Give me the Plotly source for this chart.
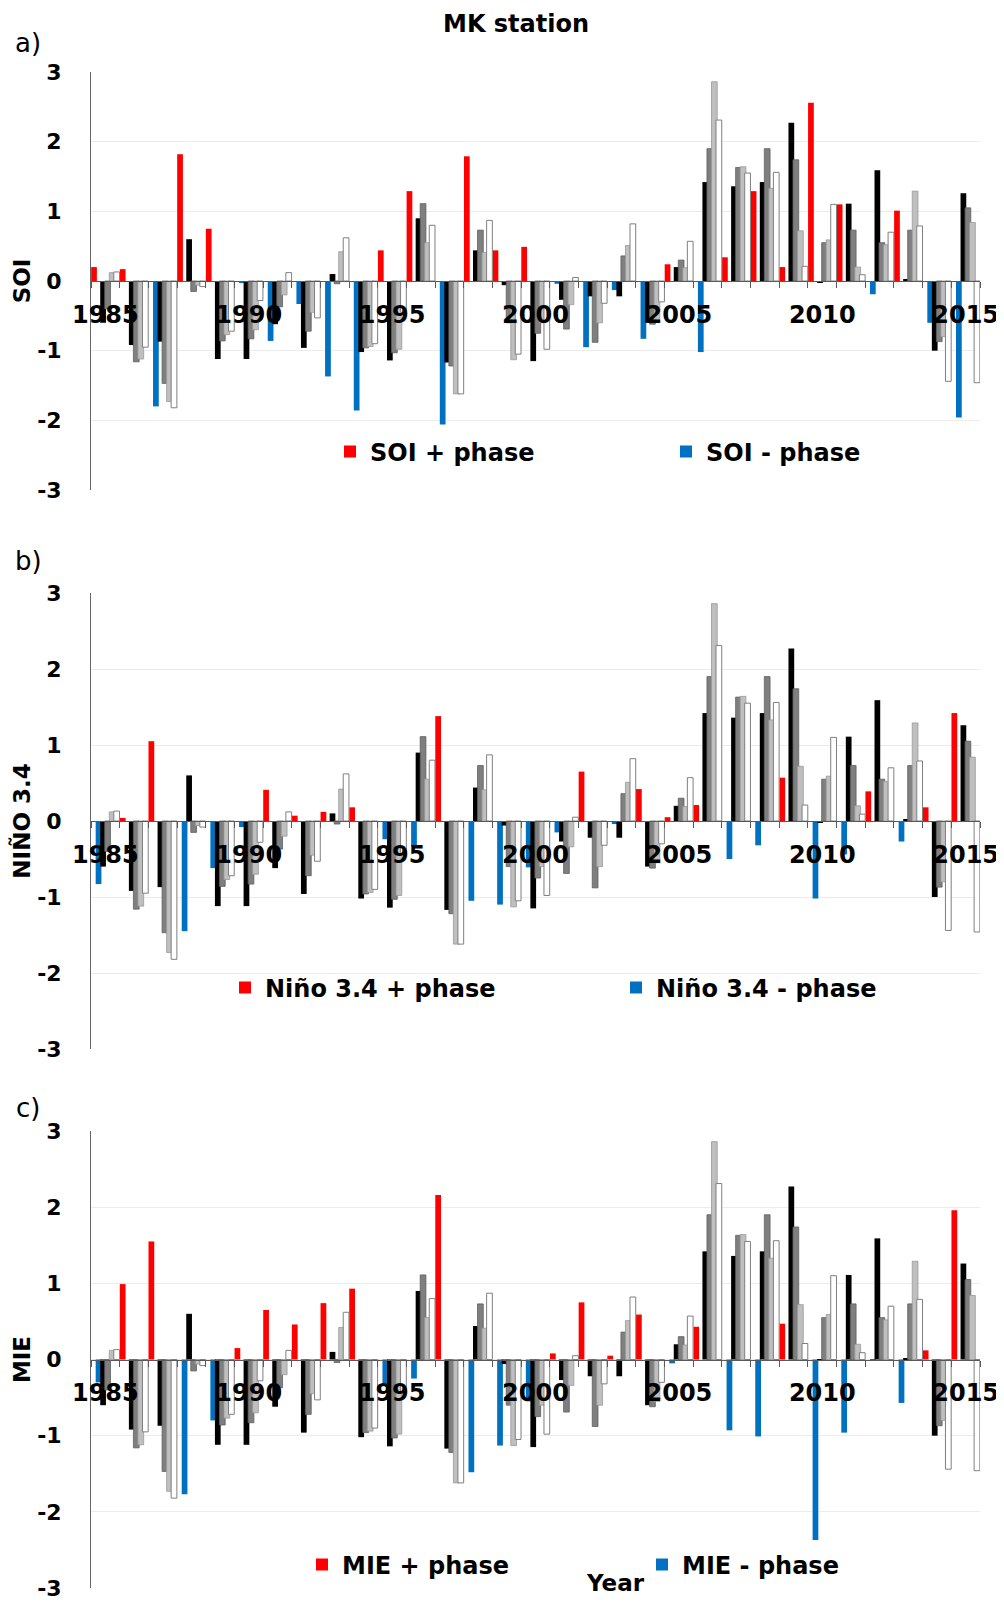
import plotly.graph_objects as go

years = list(range(1985, 2016))

# Climate indices (one value per year)
soi = [0.20, 0.17, -1.80, 1.82, 0.75, -0.02, -0.86, -0.33, -1.37, -1.86,
       0.44, 1.29, -2.06, 1.79, 0.44, 0.49, -0.04, -0.95, -0.13, -0.83,
       0.24, -1.02, 0.34, 1.29, 0.20, 2.56, 1.10, -0.19, 1.01, -0.60, -1.96]
nino34 = [-0.83, 0.04, 1.05, -1.45, -0.62, -0.08, 0.41, 0.07, 0.12, 0.18,
          -0.24, -0.33, 1.38, -1.05, -1.10, -0.61, -0.15, 0.65, -0.04, 0.42,
          0.05, 0.21, -0.50, -0.32, 0.57, -1.02, -0.44, 0.39, -0.27, 0.18, 1.42]
mie = [-0.30, 0.99, 1.55, -1.77, -0.80, 0.15, 0.65, 0.46, 0.74, 0.93,
       -0.35, -0.25, 2.16, -1.48, -1.13, -0.55, 0.08, 0.75, 0.05, 0.59,
       -0.05, 0.43, -0.93, -1.01, 0.47, -2.37, -0.96, -0.02, -0.57, 0.12, 1.96]

# Station series (same in every panel)
s_black = [-0.60, -0.92, -0.87, 0.60, -1.12, -1.12, -0.62, -0.96, 0.10, -1.02,
           -1.14, 0.90, -1.17, 0.44, -0.06, -1.15, -0.27, -0.22, -0.22, -0.60,
           0.20, 1.42, 1.36, 1.42, 2.27, -0.02, 1.11, 1.59, 0.02, -1.00, 1.26]
s_dgray = [-0.40, -1.16, -1.47, -0.15, -0.86, -0.83, -0.37, -0.72, -0.04, -0.96,
           -1.03, 1.11, -1.22, 0.73, -0.60, -0.75, -0.69, -0.88, 0.36, -0.62,
           0.30, 1.90, 1.63, 1.90, 1.74, 0.55, 0.73, 0.55, 0.73, -0.87, 1.05]
s_lgray = [0.12, -1.12, -1.73, -0.06, -0.77, -0.70, -0.20, -0.45, 0.42, -0.94,
           -0.98, 0.55, -1.62, 0.41, -1.13, -0.60, -0.34, -0.60, 0.51, -0.55,
           0.19, 2.86, 1.64, 1.33, 0.72, 0.59, 0.20, 0.52, 1.29, -0.80, 0.84]
s_white = [0.13, -0.95, -1.82, -0.08, -0.72, -0.28, 0.12, -0.53, 0.62, -0.90,
           -0.45, 0.80, -1.62, 0.87, -1.05, -0.98, 0.05, -0.32, 0.82, -0.30,
           0.57, 2.31, 1.55, 1.56, 0.21, 1.10, 0.09, 0.70, 0.79, -1.44, -1.46]

y_ticks = [-3, -2, -1, 0, 1, 2, 3]
y_ticktext = ["-3", "-2", "-1", "0", "1", "2", "3"]
x_ticks = [1985, 1990, 1995, 2000, 2005, 2010, 2015]

panels = [
    ("SOI", soi, "SOI + phase", "SOI - phase", "a)"),
    ("NIÑO 3.4", nino34, "Niño 3.4 + phase", "Niño 3.4 - phase", "b)"),
    ("MIE", mie, "MIE + phase", "MIE - phase", "c)"),
]

# page offset (browser body margin) compensation
OFF = 8
W = 1004 - OFF
H = 1602.0 - OFF
PW = 889.0
L = 91 - OFF


def py(screen_y):
    return 1 - (screen_y - OFF) / H


def px(screen_x):
    return (screen_x - OFF - L) / PW


px_ext = [(72, 490), (593, 1049), (1131, 1588)]
domains = [(py(b), py(t)) for t, b in px_ext]

FONT = "DejaVu Sans"
RED = "#ff0000"
BLUE = "#0070c0"

fig = go.Figure()

slot_w = 0.158
bar_w = 0.2
start = -0.495

# (square-left screen x, text-centre screen y, entry width)
legend_pos = [(344, 452, 291), (239, 988, 346), (316, 1565, 295)]

for p, (ytitle, idx, plus_name, minus_name, lab) in enumerate(panels):
    xa = "x" if p == 0 else f"x{p+1}"
    ya = "y" if p == 0 else f"y{p+1}"
    lg = "legend" if p == 0 else f"legend{p+1}"
    pos_vals = [v if v > 0 else None for v in idx]
    neg_vals = [v if v < 0 else None for v in idx]
    series = [
        (plus_name, pos_vals, RED, RED, 0, True),
        (minus_name, neg_vals, BLUE, BLUE, 0, True),
        ("black", s_black, "#000000", "#000000", 0, False),
        ("dark gray", s_dgray, "#7f7f7f", "#5f5f5f", 0.8, False),
        ("light gray", s_lgray, "#bfbfbf", "#999999", 0.8, False),
        ("white", s_white, "#ffffff", "#7f7f7f", 1.0, False),
    ]
    for i, (nm, vals, col, lcol, lw, show) in enumerate(series):
        fig.add_trace(go.Bar(
            x=years, y=vals, name=nm, xaxis=xa, yaxis=ya,
            marker=dict(color=col, line=dict(color=lcol, width=lw)),
            offset=start + i * slot_w, width=bar_w,
            showlegend=show, legend=lg,
        ))

    d0, d1 = domains[p]
    axx = dict(
        domain=[0, 1], range=[1984.5, 2015.5], anchor="free",
        position=(d0 + d1) / 2, automargin=False,
        tickvals=x_ticks,
        ticks="", showgrid=False,
        showline=True, linecolor="#595959", linewidth=1,
        tickfont=dict(family=FONT, size=24, color="black", weight="bold"),
        ticklabelstandoff=12,
        minor=dict(tick0=1984.5, dtick=1, ticks="outside", ticklen=6,
                   tickcolor="#595959", tickwidth=1, showgrid=False),
        zeroline=False,
    )
    axy = dict(
        domain=[d0, d1], range=[-3, 3], anchor=xa, automargin=False,
        tickvals=y_ticks, ticktext=y_ticktext, ticklabeloverflow="allow",
        showgrid=True, gridcolor="#ececec", gridwidth=1,
        zeroline=False, showline=True, linecolor="#666666", linewidth=1,
        ticks="", ticklabelstandoff=24,
        tickfont=dict(family=FONT, size=22, color="black", weight="bold"),
        title=dict(text=ytitle, standoff=0,
                   font=dict(family=FONT, size=23, color="black", weight="bold")),
    )
    fig.update_layout({("xaxis" if p == 0 else f"xaxis{p+1}"): axx,
                       ("yaxis" if p == 0 else f"yaxis{p+1}"): axy})

    sx, sy, ew = legend_pos[p]
    fig.update_layout({lg: dict(
        x=px(sx - 14), y=py(sy), xanchor="left", yanchor="middle", orientation="h",
        bgcolor="rgba(0,0,0,0)", entrywidth=ew, entrywidthmode="pixels",
        font=dict(family=FONT, size=24, color="black", weight="bold"),
        traceorder="normal",
    )})

    fig.add_annotation(text=lab, xref="paper", yref="paper",
                       x=px(28), y=py([43, 561, 1108][p]),
                       xanchor="center", yanchor="middle", showarrow=False,
                       font=dict(family=FONT, size=26, color="black"))

fig.add_annotation(text="<b>Year</b>", xref="paper", yref="paper",
                   x=px(615), y=py(1583), xanchor="center",
                   yanchor="middle", showarrow=False,
                   font=dict(family=FONT, size=23, color="black"))

fig.add_annotation(text="<b>MK station</b>", xref="paper", yref="paper",
                   x=px(516), y=py(24), xanchor="center", yanchor="middle",
                   showarrow=False,
                   font=dict(family=FONT, size=24, color="black"))

fig.update_layout(
    width=W, height=H,
    margin=dict(l=L, r=W - L - PW, t=0, b=0, autoexpand=False),
    barmode="overlay",
    plot_bgcolor="white", paper_bgcolor="white",
)

fig.write_html("out.html")
